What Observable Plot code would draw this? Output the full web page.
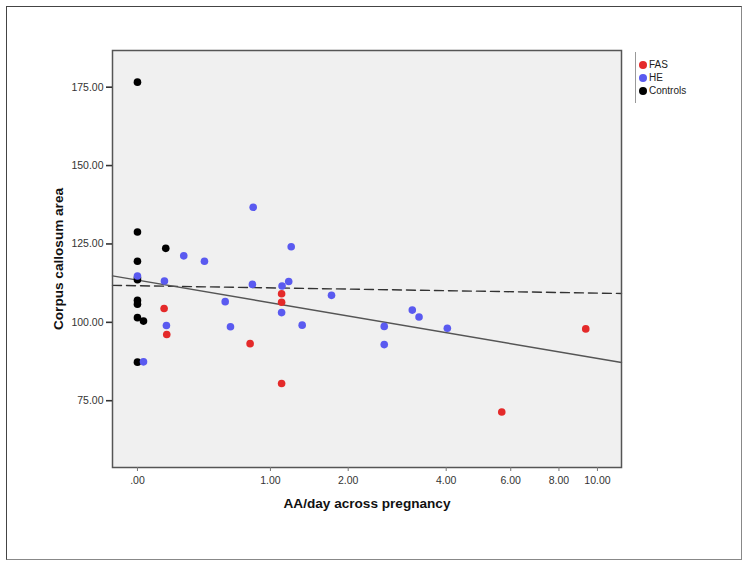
<!DOCTYPE html>
<html>
<head>
<meta charset="utf-8">
<script src="https://cdn.jsdelivr.net/npm/d3@7"></script>
<script src="https://cdn.jsdelivr.net/npm/@observablehq/plot@0.6"></script>
<style>
  body { margin: 0; background: #fff; font-family: "Liberation Sans", Arial, sans-serif; }
  #wrap { position: relative; width: 751px; height: 568px; }
  #border { position: absolute; left: 6px; top: 6px; width: 736px; height: 554px;
            border-top: 1.5px solid #444; border-left: 1.5px solid #444;
            border-right: 1.5px solid #888; border-bottom: 1.5px solid #888; box-sizing: border-box; }
  #legend { position: absolute; left: 635px; top: 52px; height: 45px; border-left: 1px solid #999;
            padding-left: 3px; padding-top: 6px; font-size: 10px; color: #222; }
  .item { display: flex; align-items: center; height: 13px; margin-top: 0px; }
  .sw { width: 8px; height: 8px; border-radius: 50%; margin-right: 2px; }
</style>
</head>
<body>
<div id="wrap"><div id="border"></div><div id="legend"></div></div>
<script>
// Data (AA/day across pregnancy, corpus callosum area)
const groups = ["FAS", "HE", "Controls"];
const groupColors = ["#e42a2a", "#5a5af0", "#000000"];

const fasX = [0.149, 0.165, 0.799, 1.12, 1.12, 1.12, 5.68, 9.35];
const fasY = [104.4, 96.1, 93.2, 109.1, 106.4, 80.5, 71.4, 97.9];

const heX = [0, 0.151, 0.163, 0.032, 0.273, 0.418, 0.580, 0.624, 0.821, 0.828, 1.229, 1.125, 1.2, 1.12, 1.36, 1.75, 2.62, 2.62, 3.19, 3.34, 4.03];
const heY = [114.8, 113.2, 99.0, 87.4, 121.2, 119.5, 106.6, 98.6, 112.1, 136.7, 124.1, 111.6, 113.0, 103.1, 99.1, 108.6, 98.7, 92.9, 103.9, 101.7, 98.1];

const ctrlX = [0, 0, 0, 0, 0, 0, 0, 0, 0.032, 0.159, 0];
const ctrlY = [176.6, 128.8, 119.5, 114.2, 113.6, 107.0, 105.8, 101.5, 100.4, 123.6, 87.3];

// fit lines (end points at plot edges)
const fitSolidX = [-0.122, 11.47];
const fitSolidY = [114.8, 87.2];
const fitDashX = [-0.122, 11.47];
const fitDashY = [111.8, 109.2];

const xTicks = [0, 1, 2, 4, 6, 8, 10];
const yTicks = [75, 100, 125, 150, 175];

const toRows = (xs, ys, g) => xs.map((x, i) => ({x, y: ys[i], g}));
const points = [
  ...toRows(ctrlX, ctrlY, "Controls"),
  ...toRows(heX, heY, "HE"),
  ...toRows(fasX, fasY, "FAS")
];
const solid = toRows(fitSolidX, fitSolidY, "solid");
const dash = toRows(fitDashX, fitDashY, "dash");

const chart = Plot.plot({
  width: 751,
  height: 568,
  marginLeft: 112,
  marginRight: 130,
  marginTop: 50,
  marginBottom: 101,
  style: { fontFamily: "'Liberation Sans', Arial, sans-serif", background: "transparent" },
  x: { type: "log", domain: [0.878, 12.47] },
  y: { domain: [53.7, 186.7] },
  color: { domain: groups, range: groupColors },
  marks: [
    Plot.frame({ fill: "#f0f0f0", stroke: null }),
    Plot.line(dash, { x: d => d.x + 1, y: "y", stroke: "#333", strokeWidth: 1.4, strokeDasharray: "9,5" }),
    Plot.line(solid, { x: d => d.x + 1, y: "y", stroke: "#555", strokeWidth: 1.4 }),
    Plot.dot(points, { x: d => d.x + 1, y: "y", fill: "g", r: 3.8 }),
    Plot.frame({ stroke: "#555", strokeWidth: 1.5 }),
    Plot.axisX({
      ticks: xTicks.map(d => d + 1),
      tickFormat: d => (d - 1 === 0 ? ".00" : (d - 1).toFixed(2)),
      tickSize: 4, tickPadding: 5, stroke: "#777", fill: "#333", fontSize: 10.5,
      label: "AA/day across pregnancy", labelAnchor: "center", labelArrow: "none", labelOffset: 40
    }),
    Plot.axisY({
      ticks: yTicks,
      tickFormat: d => d.toFixed(2),
      tickSize: 6, tickPadding: 3, stroke: "#333", strokeWidth: 1.6, fill: "#333", fontSize: 10.5,
      label: "Corpus callosum area", labelAnchor: "center", labelArrow: "none", labelOffset: 59
    })
  ]
});
document.getElementById("wrap").prepend(chart);
chart.style.position = "absolute";
chart.style.left = "0px";
chart.style.top = "0px";

// bold axis labels
chart.querySelectorAll("g[aria-label='x-axis label'] text, g[aria-label='y-axis label'] text").forEach(t => {
  t.setAttribute("font-weight", "bold");
  t.setAttribute("font-size", "13.6");
  t.setAttribute("fill", "#111");
});

const legend = document.getElementById("legend");
groups.forEach((g, i) => {
  const it = document.createElement("div");
  it.className = "item";
  const sw = document.createElement("span");
  sw.className = "sw";
  sw.style.background = groupColors[i];
  it.appendChild(sw);
  it.appendChild(document.createTextNode(g));
  legend.appendChild(it);
});
</script>
</body>
</html>
